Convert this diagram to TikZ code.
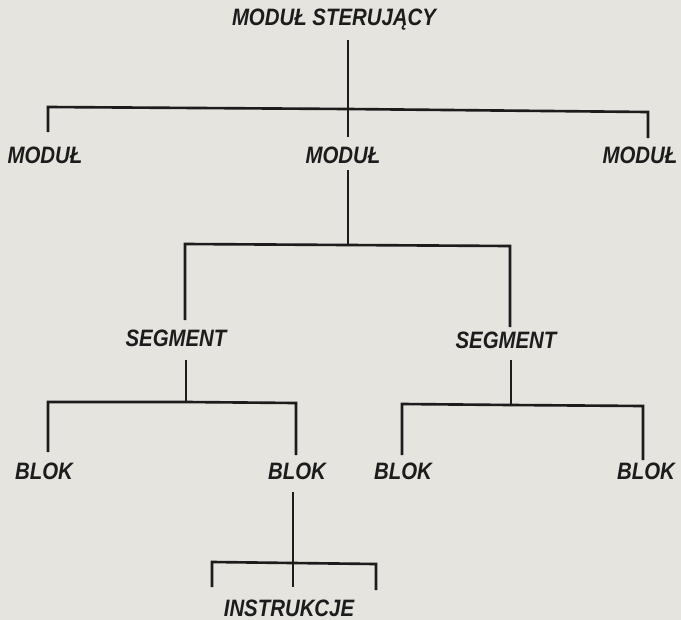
\documentclass[tikz,border=0pt]{standalone}
\usepackage{fontspec}
\newfontfamily\lettering[FakeStretch=0.86]{Liberation Sans}
\usetikzlibrary{calc}
\definecolor{paper}{HTML}{E6E4DE}
\definecolor{ink}{HTML}{1C1C1C}

\begin{document}
\begin{tikzpicture}[
  x=0.02cm, y=-0.02cm,
  lbl/.style={font=\lettering\bfseries\itshape\fontsize{13.5}{15}\selectfont, text=ink, inner sep=1pt},
  tree/.style={line width=1.5pt, draw=ink, line cap=butt}
]

  % Paper
  \fill[paper] (0,0) rectangle (681,620);
  \useasboundingbox (0,0) rectangle (681,620);

  % Labels
  \node[lbl] (ctrl) at (334,20) {MODUŁ STERUJĄCY};
  \node[lbl] (modL) at (45,155) {MODUŁ};
  \node[lbl] (modM) at (343,155) {MODUŁ};
  \node[lbl] (modR) at (640,155) {MODUŁ};
  \node[lbl] (segL) at (176,338) {SEGMENT};
  \node[lbl] (segR) at (506,340) {SEGMENT};
  \node[lbl] (blkA) at (44,471) {BLOK};
  \node[lbl] (blkB) at (297,471) {BLOK};
  \node[lbl] (blkC) at (403,471) {BLOK};
  \node[lbl] (blkD) at (646,471) {BLOK};
  \node[lbl] (instr) at (289,608) {INSTRUKCJE};

  % Level 1: control module -> modules
  \coordinate (ctrlOut) at (348,40);
  \coordinate (hubA) at (348,109);
  \coordinate (barAL) at (48,107);
  \coordinate (barAR) at (648,112);
  \coordinate (modLin) at (48,132);
  \coordinate (modMin) at (348,137);
  \coordinate (modRin) at (648,138);
  \draw[tree] (ctrlOut) -- (hubA) -- (modMin);
  \draw[tree] (modLin) -- (barAL) -- (hubA) -- (barAR) -- (modRin);

  % Level 2: module -> segments
  \coordinate (modMout) at (348,170);
  \coordinate (hubB) at (348,245);
  \coordinate (barBL) at (185,244);
  \coordinate (barBR) at (510,246);
  \coordinate (segLin) at (185,320);
  \coordinate (segRin) at (510,327);
  \draw[tree] (modMout) -- (hubB);
  \draw[tree] (segLin) -- (barBL) -- (hubB) -- (barBR) -- (segRin);

  % Level 3: segments -> blocks
  \coordinate (segLout) at (186,360);
  \coordinate (hubC) at (186,402);
  \coordinate (barCL) at (48,402);
  \coordinate (barCR) at (296,403);
  \coordinate (blkAin) at (48,452);
  \coordinate (blkBin) at (296,455);
  \draw[tree] (segLout) -- (hubC);
  \draw[tree] (blkAin) -- (barCL) -- (hubC) -- (barCR) -- (blkBin);

  \coordinate (segRout) at (511,360);
  \coordinate (hubD) at (511,405);
  \coordinate (barDL) at (402,404);
  \coordinate (barDR) at (643,406);
  \coordinate (blkCin) at (402,455);
  \coordinate (blkDin) at (643,460);
  \draw[tree] (segRout) -- (hubD);
  \draw[tree] (blkCin) -- (barDL) -- (hubD) -- (barDR) -- (blkDin);

  % Level 4: block -> instructions
  \coordinate (blkBout) at (293,492);
  \coordinate (hubE) at (293,563);
  \coordinate (barEL) at (212,562);
  \coordinate (barER) at (376,564);
  \coordinate (insL) at (212,587);
  \coordinate (insM) at (293,587);
  \coordinate (insR) at (376,590);
  \draw[tree] (blkBout) -- (hubE) -- (insM);
  \draw[tree] (insL) -- (barEL) -- (hubE) -- (barER) -- (insR);

\end{tikzpicture}
\end{document}
